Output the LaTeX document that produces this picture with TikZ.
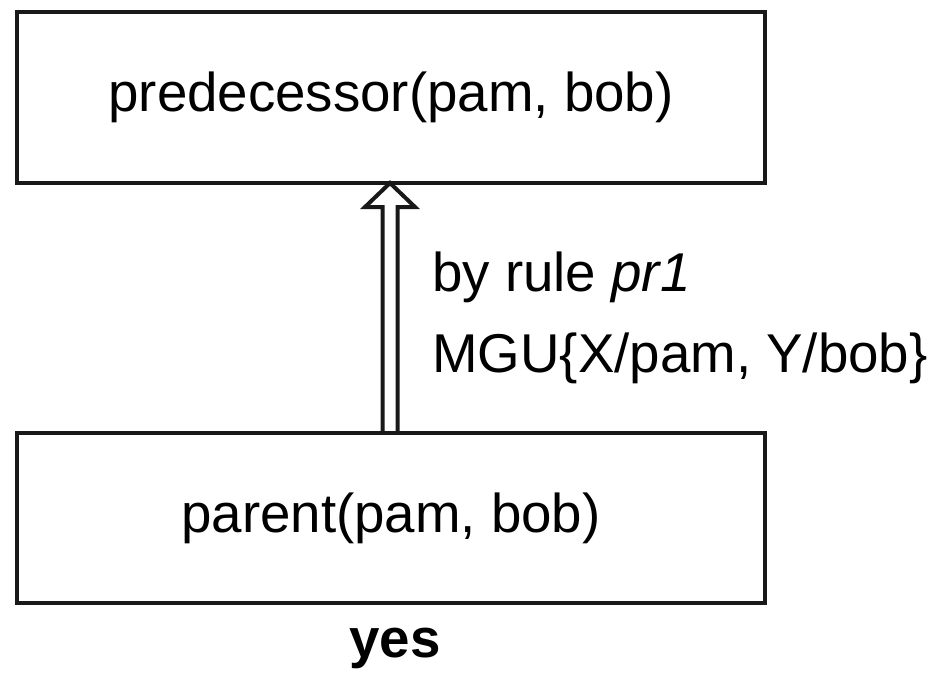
\documentclass[tikz,border=0pt]{standalone}
\usepackage{fontspec}
\setmainfont{Liberation Sans}
\begin{document}
\begin{tikzpicture}[x=0.75pt,y=-0.75pt,
  box/.style={draw=black!90,line width=3pt,minimum width=561pt,minimum height=128pt,inner sep=0pt,font=\fontsize{41}{49}\selectfont},
  lbl/.style={anchor=base west,inner sep=0pt,font=\fontsize{41}{49}\selectfont}]
\useasboundingbox (0,0) rectangle (936,694);
\node[box] (top) at (391,97.5) {predecessor(pam, bob)};
\node[box] (bot) at (391,518) {parent(pam, bob)};
\coordinate (tip) at (390,183);
\draw[line width=3pt,line join=miter,draw=black!90]
  (382.5,432) -- (382.5,207) -- (365,207) -- (tip) -- (415,207) -- (397.5,207) -- (397.5,432);
\node[lbl] (r1) at (432,291) {by rule \textit{pr1}};
\node[lbl] (r2) at (432,372) {MGU\{X/pam, Y/bob\}};
\node[font=\fontsize{41}{49}\selectfont\bfseries,inner sep=0pt] (yes) at (395,648) {yes};
\end{tikzpicture}
\end{document}
